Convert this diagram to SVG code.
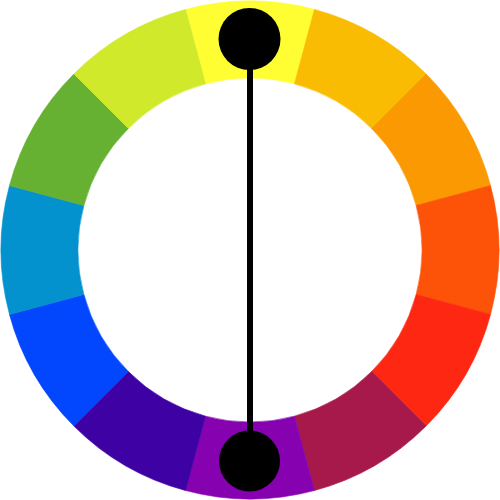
<svg xmlns="http://www.w3.org/2000/svg" xmlns:xlink="http://www.w3.org/1999/xlink" width="500" height="500" viewBox="0 0 500 500">
  <style>
    .seg { stroke-width: 0.6; stroke-linejoin: round; }
    .dot { fill: #000000; }
    .link { stroke: #000000; stroke-width: 6; fill: none; }
  </style>
  <defs>
    <path id="seg" d="M185.554 9.484 A249 249 0 0 1 314.446 9.484 L294.517 83.861 A172 172 0 0 0 205.483 83.861 Z"/>
  </defs>
  <rect width="500" height="500" fill="#ffffff"/>
  <g id="wheel">
    <use xlink:href="#seg" class="seg" fill="#FEFE33" stroke="#FEFE33"/>
    <use xlink:href="#seg" class="seg" fill="#FABC02" stroke="#FABC02" transform="rotate(30 250 250)"/>
    <use xlink:href="#seg" class="seg" fill="#FB9902" stroke="#FB9902" transform="rotate(60 250 250)"/>
    <use xlink:href="#seg" class="seg" fill="#FD5308" stroke="#FD5308" transform="rotate(90 250 250)"/>
    <use xlink:href="#seg" class="seg" fill="#FE2712" stroke="#FE2712" transform="rotate(120 250 250)"/>
    <use xlink:href="#seg" class="seg" fill="#A7194B" stroke="#A7194B" transform="rotate(150 250 250)"/>
    <use xlink:href="#seg" class="seg" fill="#8601AF" stroke="#8601AF" transform="rotate(180 250 250)"/>
    <use xlink:href="#seg" class="seg" fill="#3D01A4" stroke="#3D01A4" transform="rotate(210 250 250)"/>
    <use xlink:href="#seg" class="seg" fill="#0247FE" stroke="#0247FE" transform="rotate(240 250 250)"/>
    <use xlink:href="#seg" class="seg" fill="#0392CE" stroke="#0392CE" transform="rotate(270 250 250)"/>
    <use xlink:href="#seg" class="seg" fill="#66B032" stroke="#66B032" transform="rotate(300 250 250)"/>
    <use xlink:href="#seg" class="seg" fill="#D0EA2B" stroke="#D0EA2B" transform="rotate(330 250 250)"/>
  </g>
  <g id="connectors">
    <line class="link" x1="250" y1="39" x2="250" y2="461"/>
  </g>
  <g id="node-top">
    <circle class="dot" cx="249.5" cy="39" r="31"/>
  </g>
  <g id="node-bottom">
    <circle class="dot" cx="249.5" cy="461" r="30.5"/>
  </g>
</svg>
